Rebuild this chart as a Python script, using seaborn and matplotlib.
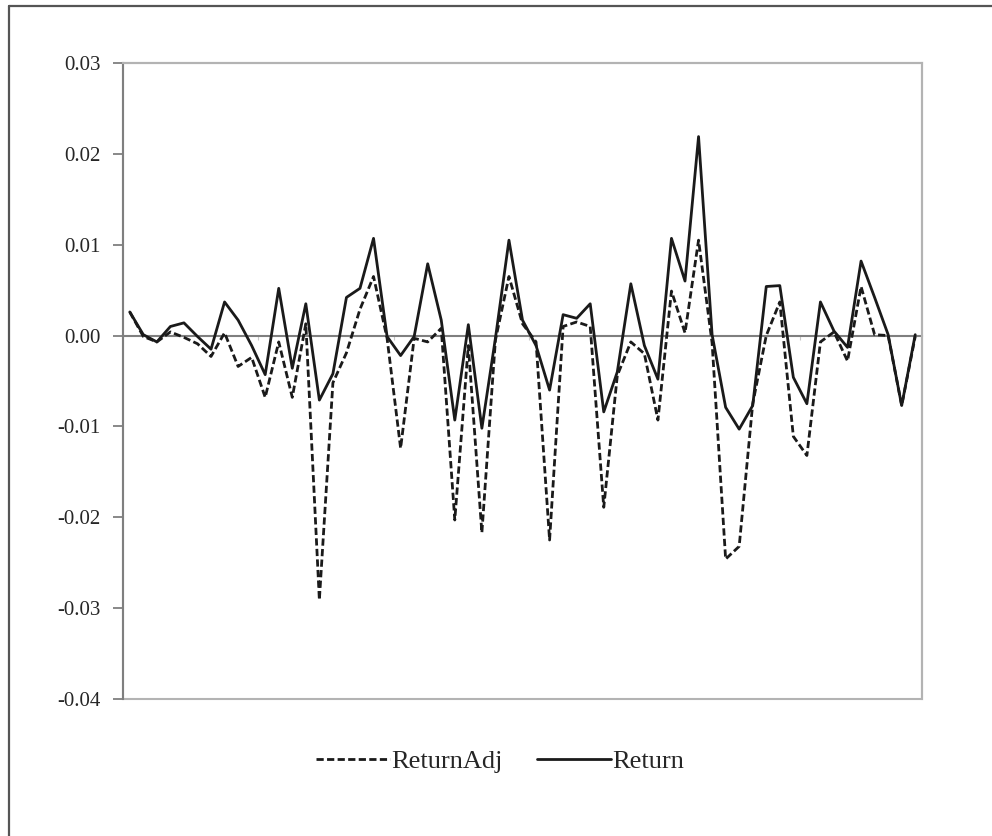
import numpy as np
import pandas as pd
import matplotlib
matplotlib.use("Agg")
import matplotlib.pyplot as plt
from matplotlib.lines import Line2D
from matplotlib.patches import Rectangle
import seaborn as sns

# ── Data ──────────────────────────────────────────────────────
return_vals = [
    0.0026, 0.0001, -0.0007, 0.0010, 0.0014, -0.0001, -0.0015, 0.0037, 0.0017, -0.0011,
    -0.0043, 0.0052, -0.0036, 0.0035, -0.0071, -0.0042, 0.0042, 0.0052, 0.0107, -0.0001,
    -0.0022, -0.0001, 0.0079, 0.0017, -0.0093, 0.0012, -0.0102, -0.0003, 0.0105, 0.0017,
    -0.0011, -0.0060, 0.0023, 0.0019, 0.0035, -0.0084, -0.0040, 0.0057, -0.0011, -0.0048,
    0.0107, 0.0060, 0.0219, 0.0001, -0.0079, -0.0103, -0.0077, 0.0054, 0.0055, -0.0046,
    -0.0075, 0.0037, 0.0005, -0.0013, 0.0082, 0.0042, 0.0001, -0.0077, 0.0001,
]
return_adj_vals = [
    0.0026, -0.0001, -0.0007, 0.0004, -0.0002, -0.0009, -0.0023, 0.0003, -0.0034, -0.0024,
    -0.0068, -0.0007, -0.0068, 0.0013, -0.0291, -0.0052, -0.0019, 0.0029, 0.0065, -0.0003,
    -0.0124, -0.0003, -0.0007, 0.0008, -0.0203, -0.0011, -0.0217, -0.0005, 0.0065, 0.0013,
    -0.0007, -0.0225, 0.0010, 0.0015, 0.0010, -0.0189, -0.0044, -0.0007, -0.0020, -0.0093,
    0.0049, 0.0003, 0.0105, -0.0008, -0.0246, -0.0232, -0.0075, 0.0000, 0.0037, -0.0111,
    -0.0132, -0.0007, 0.0004, -0.0028, 0.0054, 0.0001, 0.0000, -0.0077, -0.0001,
]
period = np.arange(len(return_vals))
y_ticks = [0.03, 0.02, 0.01, 0.00, -0.01, -0.02, -0.03, -0.04]

df = pd.DataFrame({"period": period, "Return": return_vals, "ReturnAdj": return_adj_vals})

# ── Style ─────────────────────────────────────────────────────
sns.set_theme(style="white")
plt.rcParams["font.family"] = ["Liberation Serif", "DejaVu Serif"]

LINE = "#1a1a1a"
AXIS = "#7f7f7f"
BOX = "#b3b3b3"

fig = plt.figure(figsize=(9.92, 8.36), dpi=100)
ax = fig.add_axes([123 / 992, 1 - 699 / 836, 799 / 992, 636 / 836])

sns.lineplot(data=df, x="period", y="ReturnAdj", ax=ax, color=LINE, lw=2.0,
             linestyle=(0, (2.6, 1.2)), label="ReturnAdj", legend=False)
sns.lineplot(data=df, x="period", y="Return", ax=ax, color=LINE, lw=2.0,
             label="Return", legend=False)

ax.set_xlim(-0.5, len(period) - 0.5)
ax.set_ylim(-0.04, 0.03)
ax.set_yticks(y_ticks)
ax.set_yticklabels([f"{v:.2f}" for v in y_ticks])
ax.set_xlabel("")
ax.set_ylabel("")

# zero axis line (Excel style) carries the category ticks
ax.spines["bottom"].set_position(("data", 0))
ax.spines["bottom"].set_color(AXIS)
ax.spines["bottom"].set_linewidth(1.5)
ax.spines["bottom"].set_zorder(1)
ax.set_xticks(np.arange(9.5, len(period), 10))
ax.set_xticklabels([])
ax.tick_params(axis="x", direction="out", length=3, width=0.8, color="#c8c8c8", bottom=True)

ax.spines["left"].set_color(AXIS)
ax.spines["left"].set_linewidth(1.5)
ax.tick_params(axis="y", direction="out", length=7, width=1.3, color=AXIS, left=True,
               pad=9, labelsize=15, labelcolor="#262626")
for side in ["top", "right"]:
    ax.spines[side].set_color(BOX)
    ax.spines[side].set_linewidth(1.5)
ax.add_patch(Rectangle((0, 0), 1, 1, transform=ax.transAxes, fill=False,
                       edgecolor=BOX, lw=1.5, zorder=0, clip_on=False))
ax.grid(False)

# ── Legend below the plot ─────────────────────────────────────
fig.legend(*ax.get_legend_handles_labels(), loc="center",
           bbox_to_anchor=(500 / 992, 1 - 761 / 836), ncol=2, frameon=False,
           fontsize=19, handlelength=2.8, handletextpad=0.05, columnspacing=1.3)

# outer frame (left and top edges visible in the reference)
fig.add_artist(Line2D([8.5 / 992, 8.5 / 992], [0, 1 - 5.5 / 836], transform=fig.transFigure,
                      color="#555555", lw=1.6))
fig.add_artist(Line2D([8.5 / 992, 1], [1 - 5.5 / 836, 1 - 5.5 / 836], transform=fig.transFigure,
                      color="#555555", lw=1.6))

fig.savefig("out.png", dpi=100)
plt.close(fig)
